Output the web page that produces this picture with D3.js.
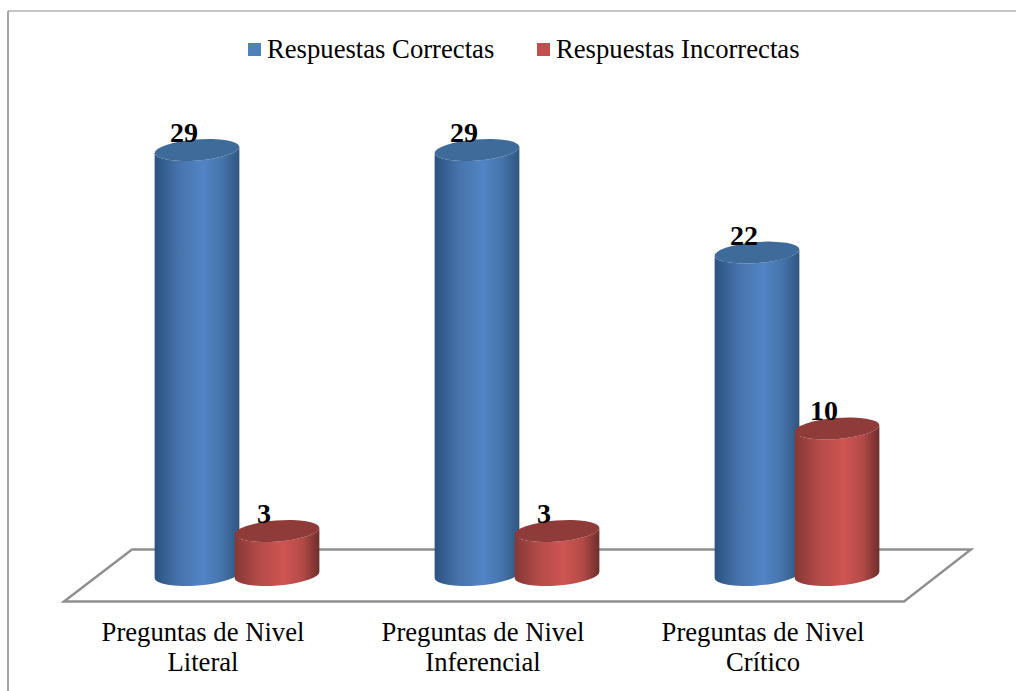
<!DOCTYPE html>
<html>

<head>
    <meta charset="utf-8">
    <script src="https://d3js.org/d3.v7.min.js"></script>
    <style>
        html, body { margin: 0; padding: 0; background: #fff; overflow: hidden; }
        svg { display: block; }
        text { font-family: "Liberation Serif", serif; fill: #000; }
    </style>
</head>

<body>
    <div id="chart-container"></div>

    <script>
        // Data
        const categories = [ "Preguntas de Nivel Literal", "Preguntas de Nivel Inferencial", "Preguntas de Nivel Crítico" ];
        const seriesNames = [ "Respuestas Correctas", "Respuestas Incorrectas" ];
        const correctas = [ 29, 29, 22 ];
        const incorrectas = [ 3, 3, 10 ];

        const width = 1016;
        const height = 691;

        const svg = d3.select( "#chart-container" )
            .append( "svg" )
            .attr( "width", width )
            .attr( "height", height );

        // Scales
        const xScale = d3.scaleBand()
            .domain( categories )
            .range( [ 97, 937 ] );

        const xInner = d3.scaleBand()
            .domain( seriesNames )
            .range( [ 60, 220 ] );

        const yScale = d3.scaleLinear()
            .domain( [ 0, 29 ] )
            .range( [ 575, 150 ] );

        const rx = 42.5, ry = 10.5, tilt = -4.5;
        const sin = Math.sin( tilt * Math.PI / 180 ), cos = Math.cos( tilt * Math.PI / 180 );

        const palette = [
            { edgeL: "#2b5280", mid1: "#4673aa", mid2: "#5285c6", edgeR: "#2f5680", top: "#3f6b9b", key: "#4f81bd" },
            { edgeL: "#853836", mid1: "#b34a47", mid2: "#cf5552", edgeR: "#6f2e2c", top: "#8f3b39", key: "#c0504d" }
        ];

        // Cylinder shading
        const defs = svg.append( "defs" );
        palette.forEach( ( p, i ) =>
        {
            const grad = defs.append( "linearGradient" ).attr( "id", "cyl" + i );
            [ [ 0, p.edgeL ], [ 0.28, p.mid1 ], [ 0.58, p.mid2 ], [ 0.8, p.mid1 ], [ 1, p.edgeR ] ].forEach( s =>
            {
                grad.append( "stop" ).attr( "offset", s[ 0 ] ).attr( "stop-color", s[ 1 ] );
            } );
        } );

        // Outer frame
        svg.append( "line" ).attr( "x1", 8 ).attr( "x2", 8 ).attr( "y1", 11 ).attr( "y2", height )
            .attr( "stroke", "#a6a6a6" ).attr( "stroke-width", 2 );
        svg.append( "line" ).attr( "x1", 8 ).attr( "x2", width ).attr( "y1", 11 ).attr( "y2", 11 )
            .attr( "stroke", "#8c8c8c" ).attr( "stroke-width", 1 );

        // Floor
        svg.append( "polygon" )
            .attr( "points", "64,601.5 132,549.5 971,549.5 904,601.5" )
            .attr( "fill", "#fff" )
            .attr( "stroke", "#8f8f8f" )
            .attr( "stroke-width", 2.4 );

        // Cylinders, one pair per category
        const series = [ correctas, incorrectas ];
        categories.forEach( ( cat, c ) =>
        {
            seriesNames.forEach( ( name, s ) =>
            {
                const cx = xScale( cat ) + xInner( name ) + xInner.bandwidth() / 2;
                const yTop = yScale( series[ s ][ c ] );
                const yBase = yScale( 0 );
                const dx = rx * cos, dy = rx * sin;

                const body = `M${ cx - dx },${ yTop - dy }`
                    + `L${ cx - dx },${ yBase - dy }`
                    + `A${ rx },${ ry } ${ tilt } 0 0 ${ cx + dx },${ yBase + dy }`
                    + `L${ cx + dx },${ yTop + dy }`
                    + `A${ rx },${ ry } ${ tilt } 0 1 ${ cx - dx },${ yTop - dy }Z`;

                svg.append( "path" ).attr( "d", body ).attr( "fill", `url(#cyl${ s })` );

                svg.append( "ellipse" )
                    .attr( "rx", rx )
                    .attr( "ry", ry )
                    .attr( "transform", `translate(${ cx },${ yTop }) rotate(${ tilt })` )
                    .attr( "fill", palette[ s ].top );
            } );
        } );

        // Value labels go on top of the cylinders
        categories.forEach( ( cat, c ) =>
        {
            seriesNames.forEach( ( name, s ) =>
            {
                const cx = xScale( cat ) + xInner( name ) + xInner.bandwidth() / 2;
                svg.append( "text" )
                    .attr( "x", cx - 13 )
                    .attr( "y", yScale( series[ s ][ c ] ) - 8 )
                    .attr( "text-anchor", "middle" )
                    .attr( "font-size", 28 )
                    .attr( "font-weight", "bold" )
                    .text( series[ s ][ c ] );
            } );
        } );

        // Category axis, wrapped onto two lines
        const axis = svg.append( "g" )
            .attr( "transform", "translate(-34,618)" )
            .call( d3.axisBottom( xScale ).tickSize( 0 ).tickFormat( "" ) );
        axis.select( ".domain" ).remove();
        axis.selectAll( ".tick" ).each( function ( d )
        {
            const words = d.split( " " );
            const label = d3.select( this ).select( "text" )
                .attr( "y", 0 )
                .attr( "dy", null )
                .attr( "font-size", 26.67 )
                .attr( "font-family", "Liberation Serif" )
                .text( null );
            label.append( "tspan" ).attr( "x", 0 ).attr( "y", 23 ).text( words.slice( 0, 3 ).join( " " ) );
            label.append( "tspan" ).attr( "x", 0 ).attr( "y", 53 ).text( words.slice( 3 ).join( " " ) );
        } );

        // Legend
        const legendX = [ 248, 537 ];
        seriesNames.forEach( ( name, i ) =>
        {
            svg.append( "rect" )
                .attr( "x", legendX[ i ] )
                .attr( "y", 43 )
                .attr( "width", 13 )
                .attr( "height", 13 )
                .attr( "fill", palette[ i ].key );
            svg.append( "text" )
                .attr( "x", legendX[ i ] + 19 )
                .attr( "y", 58 )
                .attr( "font-size", 26.67 )
                .text( name );
        } );
    </script>
</body>

</html>
